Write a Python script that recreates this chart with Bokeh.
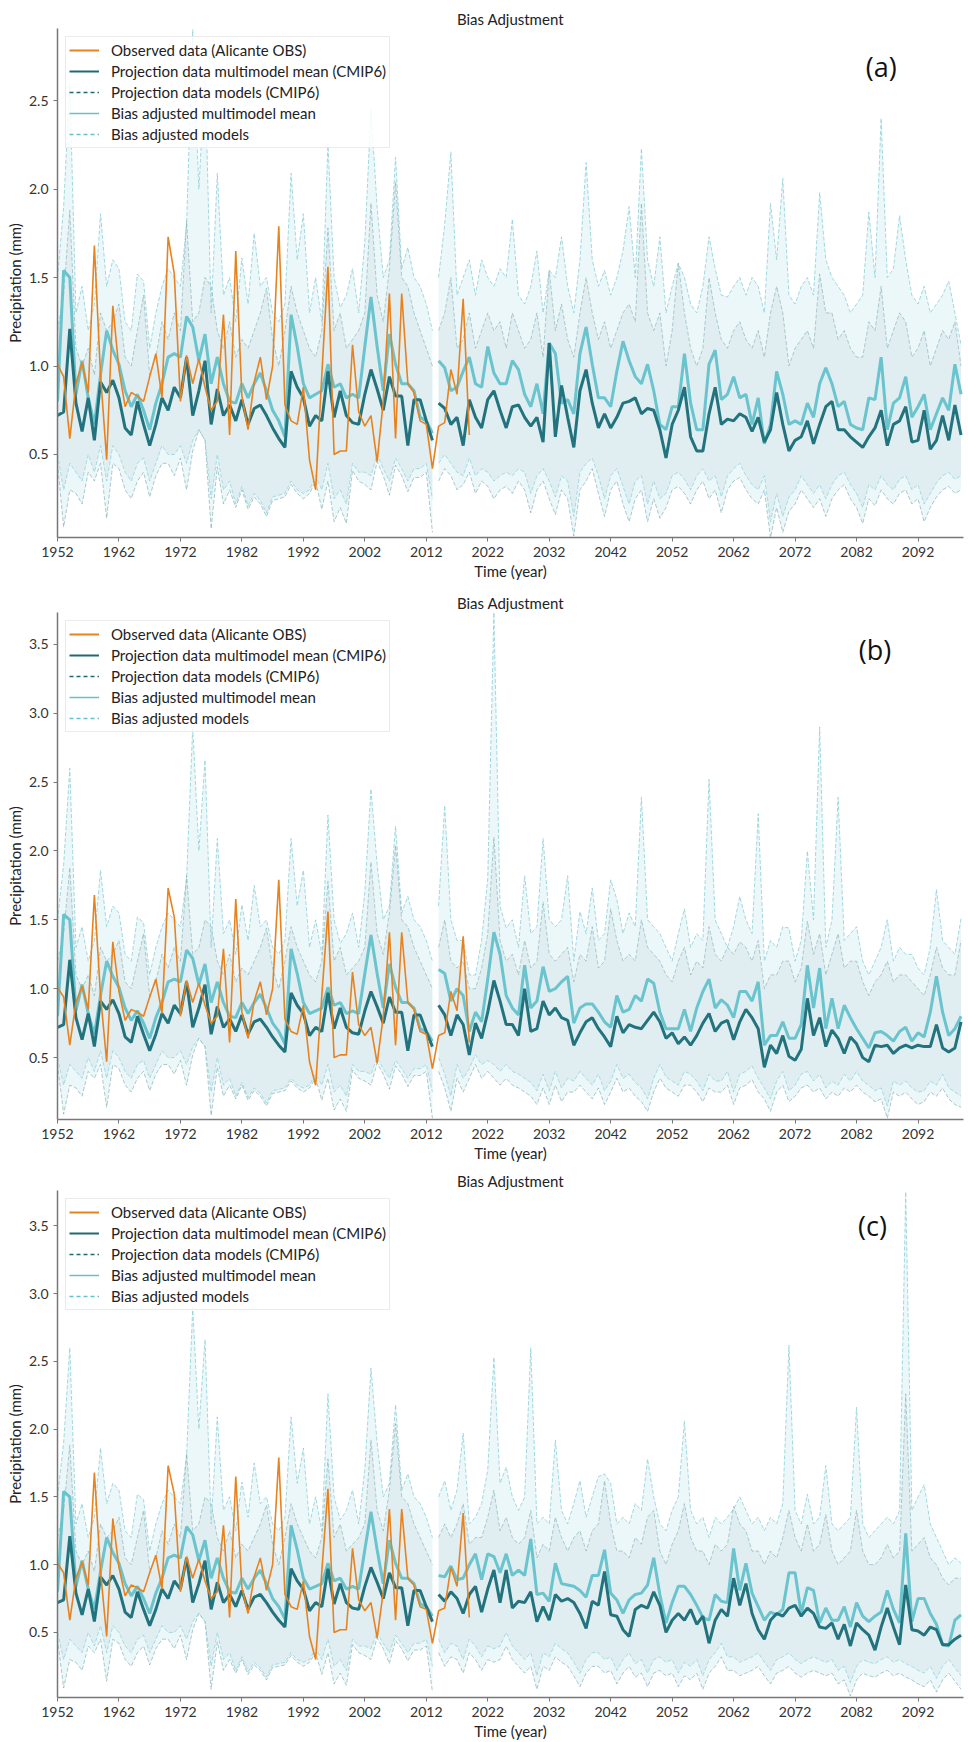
from bokeh.plotting import figure
from bokeh.models import ColumnDataSource, Range1d, Legend, LegendItem, Label, FixedTicker, NumeralTickFormatter
from bokeh.layouts import column
from bokeh.embed import file_html
from bokeh.resources import INLINE

# ---------------- data ----------------
x_ticks = [1952, 1962, 1972, 1982, 1992, 2002, 2012, 2022, 2032, 2042, 2052, 2062, 2072, 2082, 2092]
y_ticks_a = [0.5, 1.0, 1.5, 2.0, 2.5]
y_ticks_bc = [0.5, 1.0, 1.5, 2.0, 2.5, 3.0, 3.5]

years_obs = list(range(1952, 2020))
obs = [1.01, 0.94, 0.59, 0.90, 1.02, 0.85, 1.68, 0.95, 0.47, 1.34,
       0.98, 0.77, 0.85, 0.83, 0.80, 0.94, 1.07, 0.82, 1.73, 1.52,
       0.80, 1.06, 0.90, 1.04, 0.88, 0.75, 0.80, 1.29, 0.61, 1.65,
       0.83, 0.64, 0.91, 1.05, 0.81, 1.00, 1.79, 0.78, 0.69, 0.67,
       0.88, 0.47, 0.30, 0.95, 1.56, 0.50, 0.52, 0.52, 1.12, 0.74,
       0.66, 0.72, 0.46, 0.80, 1.41, 0.59, 1.41, 0.90, 0.85, 0.69,
       0.67, 0.42, 0.66, 0.68, 0.98, 0.84, 1.38, 0.61]

years_hist = list(range(1952, 2014))
hist_proj_mean = [0.72, 0.74, 1.21, 0.79, 0.63, 0.82, 0.58, 0.91, 0.85, 0.92,
                  0.82, 0.65, 0.61, 0.80, 0.67, 0.55, 0.67, 0.82, 0.75, 0.88,
                  0.82, 1.05, 0.72, 0.86, 1.03, 0.67, 0.87, 0.72, 0.78, 0.69,
                  0.81, 0.67, 0.76, 0.78, 0.72, 0.65, 0.59, 0.54, 0.97, 0.88,
                  0.82, 0.66, 0.72, 0.69, 0.97, 0.71, 0.86, 0.72, 0.68, 0.67,
                  0.84, 0.98, 0.87, 0.75, 0.94, 0.83, 0.83, 0.55, 0.81, 0.81,
                  0.69, 0.58]
hist_ba_mean = [0.80, 1.54, 1.50, 0.84, 1.03, 0.82, 0.67, 0.95, 1.20, 1.09,
                1.01, 0.86, 0.77, 0.84, 0.75, 0.64, 0.79, 0.90, 1.05, 1.07,
                1.05, 1.28, 1.22, 1.03, 1.18, 0.90, 1.05, 0.90, 0.80, 0.79,
                0.90, 0.82, 0.90, 0.96, 0.86, 0.75, 0.69, 0.60, 1.29, 1.11,
                0.90, 0.82, 0.84, 0.86, 1.01, 0.88, 0.90, 0.82, 0.84, 0.82,
                1.11, 1.39, 1.11, 0.86, 1.18, 1.01, 0.90, 0.90, 0.86, 0.71,
                0.69, 0.62]
hist_env_hi = [1.50, 1.90, 2.60, 1.30, 1.45, 1.20, 1.35, 1.86, 1.45, 1.60,
               1.55, 1.25, 1.20, 1.52, 1.48, 1.10, 1.30, 1.45, 1.55, 1.50,
               1.45, 1.80, 2.90, 2.00, 2.66, 1.30, 2.09, 1.40, 1.50, 1.25,
               1.61, 1.35, 1.75, 1.45, 1.50, 1.30, 1.25, 1.35, 2.09, 1.60,
               1.86, 1.30, 1.50, 1.25, 2.26, 1.50, 1.33, 1.40, 1.55, 1.30,
               1.70, 2.45, 1.90, 1.50, 1.60, 2.18, 1.55, 1.67, 1.50, 1.45,
               1.35, 1.20]
hist_env_lo = [0.45, 0.09, 0.30, 0.28, 0.22, 0.40, 0.35, 0.45, 0.14, 0.45,
               0.42, 0.30, 0.25, 0.35, 0.40, 0.26, 0.38, 0.45, 0.45, 0.38,
               0.48, 0.30, 0.52, 0.64, 0.58, 0.08, 0.43, 0.22, 0.30, 0.20,
               0.30, 0.19, 0.26, 0.22, 0.15, 0.24, 0.25, 0.26, 0.33, 0.28,
               0.25, 0.28, 0.35, 0.19, 0.35, 0.12, 0.20, 0.11, 0.41, 0.35,
               0.33, 0.30, 0.46, 0.38, 0.27, 0.44, 0.38, 0.29, 0.37, 0.37,
               0.40, 0.06]
hist_proj_hi = [1.20, 1.40, 1.88, 1.10, 1.00, 1.10, 0.95, 1.30, 1.20, 1.25,
                1.35, 1.05, 1.00, 1.20, 1.40, 0.95, 1.05, 1.25, 1.15, 1.30,
                1.20, 1.82, 1.25, 1.30, 1.50, 1.45, 1.20, 1.10, 1.25, 1.05,
                1.15, 1.10, 1.20, 1.30, 1.44, 1.15, 1.00, 1.20, 1.45, 1.30,
                1.20, 1.10, 1.05, 1.20, 1.78, 1.20, 1.30, 1.10, 1.15, 1.20,
                1.30, 1.92, 1.40, 1.25, 1.55, 2.04, 1.50, 1.45, 1.30, 1.20,
                1.10, 1.00]
hist_proj_lo = [0.50, 0.30, 0.45, 0.40, 0.35, 0.50, 0.40, 0.55, 0.35, 0.55,
                0.50, 0.40, 0.35, 0.45, 0.48, 0.35, 0.45, 0.55, 0.50, 0.50,
                0.55, 0.45, 0.58, 0.64, 0.58, 0.25, 0.50, 0.30, 0.35, 0.22,
                0.32, 0.21, 0.28, 0.24, 0.17, 0.26, 0.27, 0.28, 0.35, 0.30,
                0.28, 0.30, 0.38, 0.30, 0.45, 0.25, 0.30, 0.22, 0.45, 0.40,
                0.40, 0.38, 0.50, 0.42, 0.35, 0.48, 0.42, 0.35, 0.42, 0.42,
                0.45, 0.25]

years_fut = list(range(2014, 2100))

# ---- scenario (a)
a_proj_mean = [0.79, 0.76, 0.67, 0.71, 0.55, 0.81, 0.71, 0.65, 0.81, 0.86,
               0.75, 0.65, 0.77, 0.78, 0.71, 0.66, 0.71, 0.57, 1.13, 0.60,
               0.89, 0.71, 0.54, 0.86, 0.98, 0.79, 0.65, 0.73, 0.65, 0.71,
               0.79, 0.80, 0.82, 0.73, 0.76, 0.75, 0.64, 0.48, 0.67, 0.75,
               0.88, 0.60, 0.52, 0.52, 0.73, 0.88, 0.67, 0.70, 0.69, 0.73,
               0.71, 0.63, 0.71, 0.57, 0.64, 0.85, 0.67, 0.52, 0.58, 0.60,
               0.69, 0.56, 0.67, 0.77, 0.80, 0.64, 0.64, 0.60, 0.57, 0.54,
               0.60, 0.65, 0.75, 0.55, 0.67, 0.69, 0.77, 0.57, 0.58, 0.75,
               0.53, 0.58, 0.72, 0.58, 0.78, 0.61]
a_ba_mean = [1.03, 0.99, 0.86, 0.88, 0.97, 1.05, 0.90, 0.88, 1.11, 0.96,
             0.90, 0.90, 1.03, 0.98, 0.84, 0.77, 0.90, 0.73, 1.13, 1.07,
             0.79, 0.81, 0.73, 1.07, 1.22, 1.01, 0.82, 0.82, 0.77, 0.97,
             1.14, 1.03, 0.94, 0.90, 1.01, 0.86, 0.67, 0.64, 0.77, 0.77,
             1.07, 0.79, 0.64, 0.64, 1.01, 1.09, 0.81, 0.84, 0.94, 0.82,
             0.84, 0.67, 0.82, 0.56, 0.67, 0.97, 0.84, 0.67, 0.69, 0.67,
             0.79, 0.71, 0.90, 0.99, 0.90, 0.77, 0.80, 0.67, 0.65, 0.64,
             0.82, 0.81, 1.05, 0.64, 0.79, 0.82, 0.94, 0.71, 0.77, 0.84,
             0.64, 0.73, 0.82, 0.75, 1.01, 0.84]
a_env_hi = [1.50, 1.80, 2.21, 1.40, 1.50, 1.60, 1.40, 1.60, 1.50, 1.45,
            1.55, 1.50, 1.83, 1.40, 1.35, 1.45, 1.65, 1.30, 1.54, 1.50,
            1.73, 1.45, 1.30, 1.60, 2.15, 1.60, 1.45, 1.54, 1.40, 1.50,
            1.65, 1.90, 1.50, 2.23, 1.60, 1.45, 1.73, 1.30, 1.45, 1.58,
            1.50, 1.35, 1.30, 1.45, 1.73, 1.55, 1.40, 1.39, 1.45, 1.50,
            1.40, 1.50, 1.45, 1.30, 1.92, 1.60, 2.06, 1.40, 1.35, 1.45,
            1.50, 1.40, 1.98, 1.60, 1.50, 1.45, 1.40, 1.30, 1.35, 1.40,
            1.87, 1.50, 2.40, 1.50, 1.55, 1.85, 1.60, 1.40, 1.35, 1.45,
            1.30, 1.35, 1.40, 1.48, 1.30, 1.12]
a_env_lo = [0.35, 0.42, 0.38, 0.30, 0.33, 0.40, 0.28, 0.35, 0.32, 0.25,
            0.30, 0.32, 0.28, 0.35, 0.30, 0.17, 0.30, 0.35, 0.25, 0.16,
            0.30, 0.25, 0.04, 0.30, 0.35, 0.42, 0.28, 0.15, 0.30, 0.35,
            0.22, 0.12, 0.25, 0.30, 0.12, 0.25, 0.14, 0.20, 0.30, 0.32,
            0.28, 0.22, 0.30, 0.35, 0.25, 0.30, 0.17, 0.30, 0.35, 0.37,
            0.30, 0.25, 0.22, 0.30, 0.03, 0.20, 0.06, 0.18, 0.22, 0.30,
            0.25, 0.20, 0.25, 0.15, 0.25, 0.30, 0.33, 0.25, 0.20, 0.11,
            0.25, 0.21, 0.30, 0.25, 0.22, 0.28, 0.30, 0.22, 0.25, 0.12,
            0.20, 0.26, 0.30, 0.32, 0.28, 0.30]
a_proj_hi = [1.20, 1.30, 1.50, 1.10, 1.15, 1.30, 1.10, 1.20, 1.30, 1.20,
             1.25, 1.10, 1.30, 1.20, 1.10, 1.15, 1.30, 1.05, 1.54, 1.20,
             1.35, 1.15, 1.05, 1.30, 1.50, 1.30, 1.15, 1.25, 1.10, 1.20,
             1.30, 1.35, 1.25, 1.92, 1.30, 1.20, 1.30, 1.00, 1.20, 1.58,
             1.30, 1.10, 1.00, 1.10, 1.50, 1.30, 1.15, 1.10, 1.20, 1.25,
             1.15, 1.10, 1.20, 1.05, 1.30, 1.45, 1.30, 1.00, 1.10, 1.15,
             1.20, 1.10, 1.52, 1.30, 1.30, 1.15, 1.20, 1.10, 1.05, 1.05,
             1.25, 1.20, 1.45, 1.10, 1.20, 1.30, 1.25, 1.05, 1.10, 1.20,
             1.00, 1.10, 1.20, 1.15, 1.25, 1.00]
a_proj_lo = [0.45, 0.50, 0.45, 0.40, 0.38, 0.48, 0.38, 0.42, 0.40, 0.35,
             0.38, 0.40, 0.38, 0.42, 0.40, 0.28, 0.38, 0.42, 0.35, 0.26,
             0.38, 0.35, 0.15, 0.40, 0.45, 0.48, 0.38, 0.25, 0.38, 0.42,
             0.32, 0.22, 0.35, 0.38, 0.22, 0.35, 0.25, 0.28, 0.38, 0.40,
             0.36, 0.30, 0.38, 0.42, 0.35, 0.38, 0.26, 0.38, 0.42, 0.45,
             0.38, 0.33, 0.30, 0.38, 0.12, 0.28, 0.15, 0.26, 0.30, 0.38,
             0.33, 0.28, 0.33, 0.25, 0.33, 0.38, 0.40, 0.33, 0.28, 0.20,
             0.33, 0.30, 0.38, 0.33, 0.30, 0.36, 0.38, 0.30, 0.33, 0.22,
             0.28, 0.34, 0.38, 0.40, 0.36, 0.38]

# ---- scenario (b)
b_proj_mean = [0.88, 0.81, 0.66, 0.81, 0.74, 0.52, 0.75, 0.64, 0.83, 1.06,
               0.91, 0.74, 0.74, 0.66, 1.00, 0.69, 0.71, 0.91, 0.81, 0.86,
               0.79, 0.77, 0.59, 0.68, 0.76, 0.79, 0.71, 0.65, 0.58, 0.80,
               0.68, 0.74, 0.72, 0.71, 0.77, 0.83, 0.76, 0.64, 0.68, 0.60,
               0.65, 0.59, 0.66, 0.75, 0.82, 0.69, 0.75, 0.77, 0.63, 0.76,
               0.85, 0.79, 0.71, 0.43, 0.59, 0.53, 0.66, 0.51, 0.48, 0.56,
               0.93, 0.66, 0.79, 0.58, 0.70, 0.64, 0.53, 0.65, 0.60, 0.50,
               0.47, 0.59, 0.58, 0.59, 0.53, 0.57, 0.59, 0.57, 0.59, 0.58,
               0.58, 0.74, 0.57, 0.54, 0.57, 0.76]
b_ba_mean = [1.14, 1.11, 0.91, 1.00, 0.95, 0.69, 0.83, 0.76, 1.07, 1.41,
             1.25, 0.95, 0.86, 0.81, 1.17, 0.86, 0.91, 1.16, 0.98, 1.00,
             1.05, 1.09, 0.75, 0.86, 0.89, 0.89, 0.83, 0.76, 0.72, 0.95,
             0.83, 0.85, 0.95, 0.91, 1.07, 1.04, 0.83, 0.71, 0.71, 0.71,
             0.85, 0.69, 0.86, 0.98, 1.07, 0.86, 0.92, 0.88, 0.79, 0.98,
             0.98, 0.91, 1.05, 0.59, 0.66, 0.66, 0.76, 0.64, 0.64, 0.74,
             1.17, 0.86, 1.15, 0.71, 0.93, 0.71, 0.88, 0.79, 0.71, 0.64,
             0.57, 0.68, 0.69, 0.66, 0.62, 0.69, 0.72, 0.62, 0.68, 0.65,
             0.83, 1.09, 0.83, 0.66, 0.71, 0.80]
b_env_hi = [1.60, 2.33, 1.50, 1.35, 1.35, 1.10, 1.10, 1.35, 1.80, 3.73,
            1.60, 1.44, 1.50, 1.30, 1.82, 1.40, 1.45, 2.09, 1.50, 1.45,
            1.50, 1.82, 1.20, 1.56, 1.40, 1.73, 1.35, 1.40, 1.79, 1.65,
            1.40, 1.55, 1.45, 2.39, 1.50, 1.45, 1.40, 1.30, 1.20, 1.40,
            1.58, 1.30, 1.40, 1.35, 2.52, 1.50, 1.40, 1.30, 1.45, 1.67,
            1.50, 1.40, 2.27, 1.20, 1.35, 1.30, 1.45, 1.44, 1.20, 1.35,
            2.00, 1.50, 2.90, 1.30, 1.50, 2.39, 1.35, 1.40, 1.45, 1.20,
            1.10, 1.20, 1.30, 1.50, 1.20, 1.30, 1.25, 1.25, 1.15, 1.10,
            1.30, 1.72, 1.35, 1.30, 1.25, 1.51]
b_env_lo = [0.40, 0.28, 0.11, 0.35, 0.25, 0.35, 0.45, 0.35, 0.40, 0.35,
            0.30, 0.35, 0.30, 0.28, 0.25, 0.22, 0.16, 0.28, 0.16, 0.30,
            0.18, 0.25, 0.25, 0.30, 0.25, 0.20, 0.28, 0.16, 0.25, 0.35,
            0.25, 0.28, 0.22, 0.18, 0.11, 0.25, 0.35, 0.28, 0.25, 0.22,
            0.30, 0.30, 0.25, 0.18, 0.28, 0.25, 0.25, 0.30, 0.16, 0.28,
            0.30, 0.34, 0.25, 0.20, 0.11, 0.25, 0.30, 0.18, 0.22, 0.28,
            0.30, 0.25, 0.28, 0.20, 0.25, 0.22, 0.28, 0.25, 0.30, 0.25,
            0.22, 0.18, 0.20, 0.06, 0.25, 0.22, 0.25, 0.20, 0.16, 0.18,
            0.25, 0.22, 0.28, 0.20, 0.16, 0.14]
b_proj_hi = [1.30, 1.50, 1.20, 1.15, 1.20, 1.00, 1.00, 1.15, 1.40, 2.10,
             1.35, 1.20, 1.25, 1.10, 1.35, 1.15, 1.20, 1.63, 1.25, 1.20,
             1.25, 1.30, 1.05, 1.25, 1.20, 1.45, 1.15, 1.20, 1.58, 1.35,
             1.20, 1.25, 1.20, 1.50, 1.30, 1.25, 1.20, 1.10, 1.05, 1.20,
             1.30, 1.10, 1.20, 1.15, 1.45, 1.25, 1.20, 1.30, 1.25, 1.34,
             1.30, 1.20, 1.35, 1.00, 1.10, 1.10, 1.20, 1.20, 1.05, 1.15,
             1.49, 1.25, 1.40, 1.10, 1.25, 1.40, 1.15, 1.20, 1.20, 1.05,
             0.95, 1.05, 1.10, 1.20, 1.05, 1.10, 1.10, 1.05, 1.00, 0.95,
             1.10, 1.30, 1.15, 1.10, 1.10, 1.35]
b_proj_lo = [0.50, 0.38, 0.22, 0.45, 0.35, 0.42, 0.52, 0.45, 0.48, 0.45,
             0.40, 0.45, 0.40, 0.38, 0.35, 0.32, 0.26, 0.38, 0.26, 0.40,
             0.28, 0.35, 0.33, 0.40, 0.35, 0.30, 0.38, 0.26, 0.33, 0.45,
             0.35, 0.38, 0.32, 0.28, 0.20, 0.35, 0.45, 0.36, 0.33, 0.30,
             0.40, 0.38, 0.33, 0.26, 0.38, 0.33, 0.33, 0.40, 0.25, 0.38,
             0.40, 0.44, 0.35, 0.28, 0.20, 0.33, 0.40, 0.26, 0.30, 0.38,
             0.40, 0.33, 0.38, 0.28, 0.33, 0.30, 0.38, 0.33, 0.40, 0.33,
             0.30, 0.26, 0.28, 0.15, 0.33, 0.30, 0.33, 0.28, 0.25, 0.26,
             0.33, 0.30, 0.38, 0.28, 0.25, 0.22]

# ---- scenario (c)
c_proj_mean = [0.78, 0.73, 0.80, 0.75, 0.64, 0.78, 0.84, 0.65, 0.82, 0.96,
               0.72, 0.96, 0.68, 0.73, 0.72, 0.80, 0.58, 0.69, 0.59, 0.78,
               0.73, 0.75, 0.72, 0.64, 0.53, 0.73, 0.70, 0.95, 0.63, 0.62,
               0.52, 0.47, 0.67, 0.70, 0.68, 0.80, 0.70, 0.50, 0.59, 0.64,
               0.59, 0.67, 0.56, 0.62, 0.42, 0.59, 0.67, 0.62, 0.90, 0.70,
               0.86, 0.64, 0.52, 0.45, 0.59, 0.64, 0.62, 0.68, 0.70, 0.62,
               0.68, 0.64, 0.54, 0.53, 0.57, 0.45, 0.56, 0.40, 0.57, 0.52,
               0.48, 0.37, 0.54, 0.68, 0.54, 0.41, 0.85, 0.52, 0.51, 0.48,
               0.54, 0.52, 0.41, 0.41, 0.45, 0.48]
c_ba_mean = [0.92, 0.91, 0.99, 0.89, 0.90, 1.00, 1.08, 0.89, 1.08, 1.06,
             0.94, 1.08, 0.92, 0.96, 0.92, 1.19, 0.78, 0.79, 0.73, 1.01,
             0.86, 0.85, 0.84, 0.81, 0.76, 0.92, 0.92, 1.11, 0.79, 0.74,
             0.64, 0.74, 0.78, 0.79, 0.85, 1.05, 0.78, 0.57, 0.72, 0.84,
             0.84, 0.78, 0.70, 0.61, 0.59, 0.78, 0.73, 0.72, 1.12, 0.81,
             1.01, 0.79, 0.69, 0.59, 0.65, 0.63, 0.67, 0.94, 0.94, 0.64,
             0.83, 0.81, 0.57, 0.68, 0.59, 0.59, 0.69, 0.54, 0.72, 0.62,
             0.58, 0.62, 0.65, 0.81, 0.67, 0.57, 1.23, 0.58, 0.75, 0.75,
             0.64, 0.56, 0.41, 0.40, 0.59, 0.63]
c_env_hi = [1.50, 1.62, 1.40, 1.55, 1.97, 1.30, 1.35, 1.45, 1.70, 2.53,
            1.60, 1.72, 1.50, 1.40, 1.50, 2.60, 1.30, 1.35, 1.30, 1.92,
            1.40, 1.30, 1.45, 1.62, 1.35, 1.50, 1.65, 1.67, 1.60, 1.30,
            1.35, 1.30, 1.45, 1.40, 1.78, 1.50, 1.30, 1.25, 1.40, 1.50,
            2.06, 1.40, 1.30, 1.35, 1.20, 1.35, 1.30, 1.35, 1.41, 1.50,
            1.40, 1.30, 1.35, 1.25, 1.35, 1.30, 1.45, 2.62, 1.40, 1.30,
            1.52, 1.30, 1.35, 1.73, 1.30, 1.25, 1.30, 1.35, 2.16, 1.30,
            1.20, 1.25, 1.30, 1.35, 1.30, 1.40, 3.75, 1.40, 1.50, 1.59,
            1.30, 1.20, 1.10, 1.00, 1.05, 1.01]
c_env_lo = [0.35, 0.25, 0.32, 0.30, 0.20, 0.35, 0.30, 0.22, 0.30, 0.28,
            0.30, 0.40, 0.30, 0.25, 0.20, 0.25, 0.08, 0.25, 0.22, 0.32,
            0.28, 0.25, 0.18, 0.10, 0.20, 0.25, 0.25, 0.20, 0.22, 0.12,
            0.20, 0.25, 0.17, 0.20, 0.10, 0.20, 0.22, 0.18, 0.20, 0.10,
            0.18, 0.15, 0.20, 0.08, 0.20, 0.25, 0.32, 0.22, 0.22, 0.18,
            0.20, 0.22, 0.25, 0.18, 0.12, 0.20, 0.22, 0.25, 0.20, 0.17,
            0.20, 0.22, 0.20, 0.18, 0.20, 0.12, 0.15, 0.03, 0.15, 0.20,
            0.18, 0.17, 0.20, 0.22, 0.18, 0.20, 0.17, 0.15, 0.12, 0.10,
            0.15, 0.06, 0.15, 0.20, 0.14, 0.08]
c_proj_hi = [1.20, 1.30, 1.20, 1.30, 1.45, 1.15, 1.20, 1.20, 1.35, 1.55,
             1.25, 1.35, 1.20, 1.15, 1.20, 1.40, 1.05, 1.15, 1.10, 1.35,
             1.20, 1.10, 1.20, 1.25, 1.10, 1.25, 1.30, 1.62, 1.30, 1.10,
             1.10, 1.05, 1.20, 1.15, 1.35, 1.40, 1.10, 1.00, 1.15, 1.25,
             1.45, 1.20, 1.10, 1.10, 1.00, 1.15, 1.10, 1.15, 1.43, 1.30,
             1.25, 1.10, 1.10, 1.00, 1.10, 1.05, 1.20, 1.40, 1.20, 1.10,
             1.30, 1.10, 1.15, 1.37, 1.10, 1.00, 1.05, 1.10, 1.40, 1.10,
             1.00, 1.00, 1.05, 1.15, 1.05, 1.10, 2.26, 1.10, 1.15, 1.20,
             1.05, 1.00, 0.90, 0.85, 0.90, 0.90]
c_proj_lo = [0.45, 0.35, 0.42, 0.40, 0.30, 0.45, 0.40, 0.32, 0.40, 0.38,
             0.40, 0.50, 0.40, 0.35, 0.30, 0.35, 0.18, 0.35, 0.32, 0.42,
             0.38, 0.35, 0.28, 0.20, 0.30, 0.35, 0.35, 0.30, 0.32, 0.22,
             0.30, 0.35, 0.27, 0.30, 0.20, 0.30, 0.32, 0.28, 0.30, 0.20,
             0.28, 0.25, 0.30, 0.18, 0.30, 0.35, 0.42, 0.32, 0.32, 0.28,
             0.30, 0.32, 0.35, 0.28, 0.22, 0.30, 0.32, 0.35, 0.30, 0.27,
             0.30, 0.32, 0.30, 0.28, 0.30, 0.22, 0.25, 0.13, 0.25, 0.30,
             0.28, 0.27, 0.30, 0.32, 0.28, 0.30, 0.27, 0.25, 0.22, 0.20,
             0.25, 0.16, 0.25, 0.30, 0.24, 0.18]

# ---------------- styling ----------------
ORANGE = "#E8821E"
DARK = "#22737D"
LIGHT = "#63C1CB"
FILL_OUT = "#CDEBEF"
FILL_IN = "#B3CFD2"
DASH_LIGHT = "#8BD0D8"
DASH_DARK = "#6E9FA4"
FONT = "Lato"

src_obs = ColumnDataSource(dict(x=years_obs, y=obs))
src_hist = ColumnDataSource(dict(x=years_hist, pm=hist_proj_mean, bm=hist_ba_mean,
                                 hi=hist_env_hi, lo=hist_env_lo, phi=hist_proj_hi, plo=hist_proj_lo))
src_blank = ColumnDataSource(dict(x=[float("nan")], y=[float("nan")]))


def make_panel(tag, tag_x, tag_y, y0, y1, yticks, height, top, fut):
    pm, bm, hi, lo, phi, plo = fut
    src_fut = ColumnDataSource(dict(x=years_fut, pm=pm, bm=bm, hi=hi, lo=lo, phi=phi, plo=plo))
    p = figure(width=968, height=height, x_range=Range1d(1952, 2099.4), y_range=Range1d(y0, y1),
               output_backend="svg", toolbar_location=None,
               min_border_left=57, min_border_right=5, min_border_top=top, min_border_bottom=45,
               title="Bias Adjustment")
    p.outline_line_color = None
    p.xgrid.visible = False
    p.ygrid.visible = False
    p.background_fill_color = "white"
    p.border_fill_color = "white"
    p.title.align = "center"
    p.title.text_font = FONT
    p.title.text_font_size = "15px"
    p.title.text_font_style = "normal"
    p.title.text_color = "#222222"
    p.title.standoff = 2

    for src in (src_hist, src_fut):
        p.varea(x="x", y1="lo", y2="hi", source=src, fill_color=FILL_OUT, fill_alpha=0.38)
        p.varea(x="x", y1="plo", y2="phi", source=src, fill_color=FILL_IN, fill_alpha=0.20)
        p.line(x="x", y="hi", source=src, line_color=DASH_LIGHT, line_alpha=0.8, line_width=1, line_dash="4 2")
        p.line(x="x", y="lo", source=src, line_color=DASH_DARK, line_alpha=0.55, line_width=1, line_dash="4 2")
        p.line(x="x", y="phi", source=src, line_color=DASH_DARK, line_alpha=0.5, line_width=1, line_dash="4 2")
        p.line(x="x", y="plo", source=src, line_color=DASH_LIGHT, line_alpha=0.7, line_width=1, line_dash="4 2")
    for src in (src_hist, src_fut):
        p.line(x="x", y="bm", source=src, line_color=LIGHT, line_width=3, line_alpha=0.95)
    for src in (src_hist, src_fut):
        p.line(x="x", y="pm", source=src, line_color=DARK, line_width=3)
    p.line(x="x", y="y", source=src_obs, line_color=ORANGE, line_width=1.6)

    # legend samples (no visible data)
    r1 = p.line(x="x", y="y", source=src_blank, line_color=ORANGE, line_width=2)
    r2 = p.line(x="x", y="y", source=src_blank, line_color="#1F6A72", line_width=2)
    r3 = p.line(x="x", y="y", source=src_blank, line_color="#1F6A72", line_width=1.5, line_dash="4 3")
    r4 = p.line(x="x", y="y", source=src_blank, line_color=LIGHT, line_width=1.5)
    r5 = p.line(x="x", y="y", source=src_blank, line_color=LIGHT, line_width=1.5, line_dash="4 3")
    legend = Legend(items=[
        LegendItem(label="Observed data (Alicante OBS)", renderers=[r1]),
        LegendItem(label="Projection data multimodel mean (CMIP6)", renderers=[r2]),
        LegendItem(label="Projection data models (CMIP6)", renderers=[r3]),
        LegendItem(label="Bias adjusted multimodel mean", renderers=[r4]),
        LegendItem(label="Bias adjusted models", renderers=[r5]),
    ], location="top_left")
    legend.margin = 8
    legend.padding = 3
    legend.spacing = 1
    legend.label_text_font = FONT
    legend.label_text_font_size = "15px"
    legend.label_text_color = "#222222"
    legend.label_height = 20
    legend.glyph_height = 20
    legend.glyph_width = 30
    legend.label_standoff = 12
    legend.border_line_color = "#D8D8D8"
    legend.background_fill_alpha = 0.85
    p.add_layout(legend)

    p.add_layout(Label(x=tag_x, y=tag_y, text=tag, text_font="Open Sans", text_font_size="27px",
                       text_align="center", text_baseline="middle", text_color="#111111"))

    p.xaxis.ticker = FixedTicker(ticks=x_ticks)
    p.yaxis.ticker = FixedTicker(ticks=yticks)
    p.yaxis.formatter = NumeralTickFormatter(format="0.0")
    p.xaxis.axis_label = "Time (year)"
    p.yaxis.axis_label = "Precipitation (mm)"
    for ax in (p.xaxis, p.yaxis):
        ax.axis_line_color = "#777777"
        ax.axis_line_width = 1.5
        ax.major_tick_line_color = "#777777"
        ax.major_tick_out = 4
        ax.major_tick_in = 0
        ax.minor_tick_line_color = None
        ax.major_label_text_font = FONT
        ax.major_label_text_font_size = "14px"
        ax.major_label_text_color = "#333333"
        ax.axis_label_text_font = FONT
        ax.axis_label_text_font_size = "15px"
        ax.axis_label_text_font_style = "normal"
        ax.axis_label_text_color = "#222222"
        ax.axis_label_standoff = 2
    return p


pa = make_panel("(a)", 2086, 2.69, 0.031, 2.907, y_ticks_a, 582, 28,
                (a_proj_mean, a_ba_mean, a_env_hi, a_env_lo, a_proj_hi, a_proj_lo))
pb = make_panel("(b)", 2085, 3.46, 0.051, 3.73, y_ticks_bc, 582, 30,
                (b_proj_mean, b_ba_mean, b_env_hi, b_env_lo, b_proj_hi, b_proj_lo))
pc = make_panel("(c)", 2084.6, 3.5, 0.02, 3.76, y_ticks_bc, 578, 26,
                (c_proj_mean, c_ba_mean, c_env_hi, c_env_lo, c_proj_hi, c_proj_lo))

layout = column(pa, pb, pc)
open("out.html", "w").write(file_html(layout, INLINE))
